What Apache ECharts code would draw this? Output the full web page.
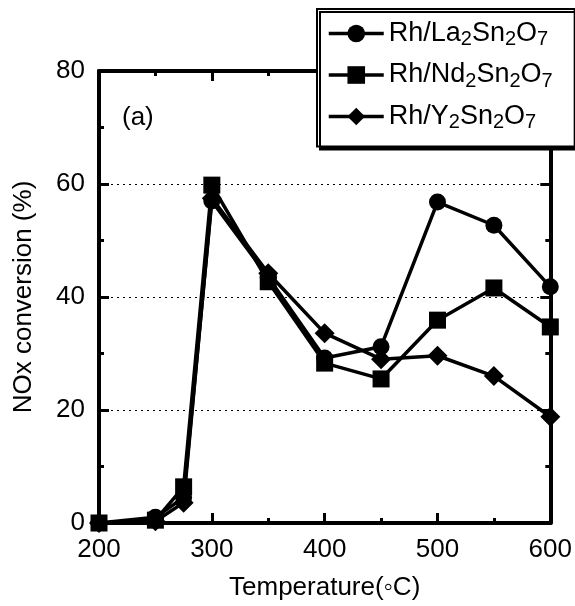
<!DOCTYPE html>
<html>
<head>
<meta charset="utf-8">
<script src="https://cdn.jsdelivr.net/npm/echarts@6/dist/echarts.min.js"></script>
<style>
html,body{margin:0;padding:0;background:#fff;}
#chart{width:575px;height:606px;}
</style>
</head>
<body>
<div id="chart"></div>
<script>
// Data
var temps = [200, 250, 275, 300, 350, 400, 450, 500, 550, 600];
var laValues = [0, 1.0, 4.5, 57.0, 43.5, 29.2, 31.2, 56.8, 52.7, 41.8];
var ndValues = [0, 0.5, 6.4, 59.8, 42.7, 28.3, 25.5, 35.9, 41.6, 34.7];
var yValues  = [0, 0.3, 3.6, 57.5, 44.2, 33.6, 29.0, 29.6, 26.0, 18.8];
var seriesNames = ['Rh/La2Sn2O7', 'Rh/Nd2Sn2O7', 'Rh/Y2Sn2O7'];
var legendRich = {
  'Rh/La2Sn2O7': '{n|Rh/La}{s|2}{n|Sn}{s|2}{n|O}{s|7}',
  'Rh/Nd2Sn2O7': '{n|Rh/Nd}{s|2}{n|Sn}{s|2}{n|O}{s|7}',
  'Rh/Y2Sn2O7':  '{n|Rh/Y}{s|2}{n|Sn}{s|2}{n|O}{s|7}'
};
var xTicks = [200, 300, 400, 500, 600];
var yTicks = [0, 20, 40, 60, 80];

function pairs(vals){ return temps.map(function(t,i){ return [t, vals[i]]; }); }

var FONT = 'Liberation Sans, Arial, sans-serif';
var chart = echarts.init(document.getElementById('chart'), null, {renderer:'canvas'});

var axisLineStyle = {color:'#000', width:4};
function mkX(show, pos){
  return {
    type:'value', min:xTicks[0], max:xTicks[xTicks.length-1], interval:100, position:pos,
    axisLine:{show:true, onZero:false, lineStyle:axisLineStyle},
    axisTick:{show:true, inside:true, length:10, lineStyle:{color:'#000', width:3}},
    minorTick:{show:true, splitNumber:2, length:5, lineStyle:{color:'#000', width:3}},
    axisLabel:{show:show, margin:14, color:'#000', fontSize:26, fontFamily:FONT},
    splitLine:{show:false},
    name: show ? 'Temperature(\u25E6C)' : '',
    nameLocation:'middle', nameGap:52,
    nameTextStyle:{color:'#000', fontSize:26, fontFamily:FONT}
  };
}
function mkY(show, pos){
  return {
    type:'value', min:yTicks[0], max:yTicks[yTicks.length-1], interval:20, position:pos,
    axisLine:{show:true, onZero:false, lineStyle:axisLineStyle},
    axisTick:{show:true, inside:true, length:10, lineStyle:{color:'#000', width:3}},
    minorTick:{show:true, splitNumber:2, length:5, lineStyle:{color:'#000', width:3}},
    axisLabel:{show:show, margin:14, color:'#000', fontSize:26, fontFamily:FONT},
    splitLine:{show:show, lineStyle:{color:'#000', width:1, type:[2,4]}},
    name: show ? 'NOx conversion (%)' : '',
    nameLocation:'middle', nameGap:62, nameRotate:90,
    nameTextStyle:{color:'#000', fontSize:26, fontFamily:FONT}
  };
}

function mkSeries(name, vals, symbol, size){
  return {
    name:name, type:'line', data:pairs(vals), symbol:symbol, symbolSize:size,
    lineStyle:{color:'#000', width:3.5}, itemStyle:{color:'#000'},
    showAllSymbol:true, animation:false
  };
}

chart.setOption({
  animation:false,
  backgroundColor:'#fff',
  grid:{left:99, right:22, top:71, bottom:83, containLabel:false},
  xAxis:[mkX(true,'bottom'), mkX(false,'top')],
  yAxis:[mkY(true,'left'), mkY(false,'right')],
  legend:{
    data:seriesNames, orient:'vertical', left:317, top:9,
    padding:[11,22,14,10], itemGap:12, itemWidth:55, itemHeight:22,
    backgroundColor:'#fff', borderColor:'#000', borderWidth:2,
    shadowColor:'#000', shadowBlur:0, shadowOffsetX:3, shadowOffsetY:3,
    lineStyle:{color:'#000', width:3.5},
    formatter:function(n){ return legendRich[n]; },
    textStyle:{color:'#000', fontFamily:FONT, padding:[0,0,0,0],
      rich:{
        n:{fontSize:27, lineHeight:32, fontFamily:FONT, color:'#000'},
        s:{fontSize:20, lineHeight:18, verticalAlign:'bottom', fontFamily:FONT, color:'#000'}
      }
    }
  },
  graphic:[{type:'text', left:122, top:105, style:{text:'(a)', fontSize:26, fontFamily:FONT, fill:'#000'}}],
  series:[
    mkSeries(seriesNames[0], laValues, 'circle', 17),
    mkSeries(seriesNames[1], ndValues, 'rect', 17),
    mkSeries(seriesNames[2], yValues, 'diamond', 20)
  ]
});
</script>
</body>
</html>
